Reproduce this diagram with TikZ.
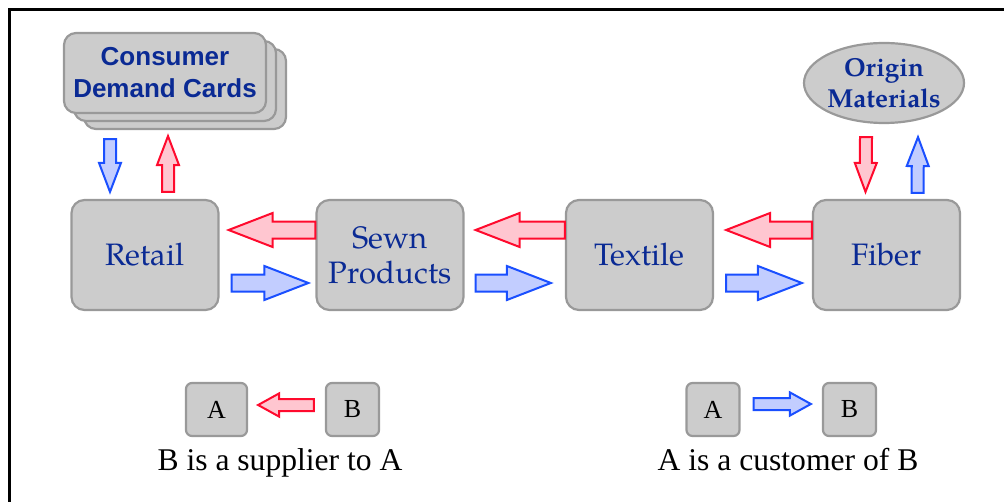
\documentclass[tikz,border=0pt]{standalone}
\usepackage{fontspec}
\setmainfont{Liberation Serif}
\newfontfamily\palfont{TeX Gyre Pagella}
\newfontfamily\cardfont{Liberation Sans}
\usetikzlibrary{shapes.geometric}
\usetikzlibrary{shadows}
\usetikzlibrary{calc}

\definecolor{boxgray}{HTML}{CCCCCC}
\definecolor{boxline}{HTML}{999999}
\definecolor{labelblue}{HTML}{0A2A94}
\definecolor{supplyred}{HTML}{FF0A2D}
\definecolor{supplyfill}{HTML}{FFC6D0}
\definecolor{orderblue}{HTML}{1A4FFF}
\definecolor{orderfill}{HTML}{C2CDFF}

% fat arrow: style, tail, tip, shaft half width, head half width, head length
\newcommand{\fatarrow}[6]{%
  \path (#2) coordinate (fa-tail) (#3) coordinate (fa-tip);
  \path ($(fa-tip)!#6!(fa-tail)$) coordinate (fa-base);
  \draw[#1] ($(fa-tail)!#4!90:(fa-tip)$) -- ($(fa-base)!#4!-90:(fa-tail)$)
    -- ($(fa-base)!#5!-90:(fa-tail)$) -- (fa-tip) -- ($(fa-base)!#5!90:(fa-tail)$)
    -- ($(fa-base)!#4!90:(fa-tail)$) -- ($(fa-tail)!#4!-90:(fa-tip)$) -- cycle;}

\begin{document}
\begin{tikzpicture}[x=0.5pt, y=-0.5pt,
    stage/.style={draw=boxline, fill=boxgray, line width=1.1pt, rounded corners=6.5pt,
      minimum width=73.5pt, minimum height=55pt, align=center, text=labelblue,
      font=\palfont\fontsize{15.5}{17.5}\selectfont},
    cardstack/.style={draw=boxline, fill=boxgray, line width=1.1pt, rounded corners=6pt,
      minimum width=101pt, minimum height=40pt, align=center, text=labelblue,
      font=\cardfont\bfseries\fontsize{13}{16}\selectfont,
      copy shadow={shadow xshift=10pt, shadow yshift=-8pt, draw=boxline, fill=boxgray, line width=1.1pt},
      copy shadow={shadow xshift=5pt, shadow yshift=-4pt, draw=boxline, fill=boxgray, line width=1.1pt}},
    source/.style={ellipse, draw=boxline, fill=boxgray, line width=1.1pt, inner sep=0pt,
      minimum width=79pt, minimum height=40pt, align=center, text=labelblue,
      font=\palfont\bfseries\fontsize{13}{15.5}\selectfont},
    key/.style={draw=boxline, fill=boxgray, line width=1.1pt, rounded corners=3pt,
      minimum width=26.5pt, minimum height=26.5pt, font=\fontsize{13}{14}\selectfont},
    supply/.style={draw=supplyred, fill=supplyfill, line width=1pt},
    order/.style={draw=orderblue, fill=orderfill, line width=1pt}]
  \useasboundingbox (0,0) rectangle (1004,502);

  % frame
  \draw[line width=1.5pt] (9.5,502) -- (9.5,9.5) -- (1004,9.5);

  % the chain
  \node[stage] (retail) at (145,255) {Retail};
  \node[stage] (sewn) at (390,255) {Sewn\\Products};
  \node[stage] (textile) at (639.5,255) {Textile};
  \node[stage] (fiber) at (886.5,255) {Fiber};

  \node[cardstack] (cards) at (165,73) {Consumer\\Demand Cards};
  \node[source] (origin) at (884,83) {Origin\\Materials};

  % supplier (red) and customer (blue) arrows
  \fatarrow{supply}{[yshift=12.5pt]sewn.west}{[xshift=4.5pt, yshift=12.5pt]retail.east}{4.25pt}{8.5pt}{22pt}
  \fatarrow{order}{[xshift=6pt, yshift=-14pt]retail.east}{[xshift=-3.5pt, yshift=-14pt]sewn.west}{4.25pt}{8.5pt}{22pt}
  \fatarrow{supply}{[yshift=12.5pt]textile.west}{[xshift=5.5pt, yshift=12.5pt]sewn.east}{4.25pt}{8.5pt}{22pt}
  \fatarrow{order}{[xshift=5.5pt, yshift=-14pt]sewn.east}{[xshift=-7pt, yshift=-14pt]textile.west}{4.25pt}{8.5pt}{22pt}
  \fatarrow{supply}{[yshift=12.5pt]fiber.west}{[xshift=6pt, yshift=12.5pt]textile.east}{4.25pt}{8.5pt}{22pt}
  \fatarrow{order}{[xshift=6pt, yshift=-14pt]textile.east}{[xshift=-5pt, yshift=-14pt]fiber.west}{4.25pt}{8.5pt}{22pt}

  \fatarrow{order}{[xshift=-27.5pt, yshift=-12.5pt]cards.south}{[xshift=-17.5pt, yshift=3.5pt]retail.north}{3pt}{5.5pt}{14.5pt}
  \fatarrow{supply}{[xshift=11.5pt, yshift=3.5pt]retail.north}{[xshift=1.5pt, yshift=-11pt]cards.south}{3pt}{5.5pt}{14.5pt}
  \fatarrow{supply}{[xshift=-9pt, yshift=-6.5pt]origin.south}{[xshift=-10.5pt, yshift=3.5pt]fiber.north}{3pt}{5.5pt}{14.5pt}
  \fatarrow{order}{[xshift=15.5pt, yshift=3pt]fiber.north}{[xshift=17pt, yshift=-6.5pt]origin.south}{3pt}{5.5pt}{14.5pt}

  % legend
  \node[key, minimum width=30.5pt] (keya1) at (216.5,409.5) {A};
  \node[key] (keyb1) at (352.5,409.5) {B};
  \fatarrow{supply}{[xshift=-5.5pt, yshift=2.25pt]keyb1.west}{[xshift=5pt, yshift=2.25pt]keya1.east}{3pt}{5.8pt}{10.5pt}
  \node[anchor=base, font=\fontsize{15.8}{18}\selectfont] (supplier) at (280,470) {B is a supplier to A};

  \node[key] (keya2) at (713,409.5) {A};
  \node[key] (keyb2) at (849.5,409.5) {B};
  \fatarrow{order}{[xshift=6.5pt, yshift=2.75pt]keya2.east}{[xshift=-5.5pt, yshift=2.75pt]keyb2.west}{3pt}{5.8pt}{10.5pt}
  \node[anchor=base, font=\fontsize{15.8}{18}\selectfont] (customer) at (788,470) {A is a customer of B};
\end{tikzpicture}
\end{document}
